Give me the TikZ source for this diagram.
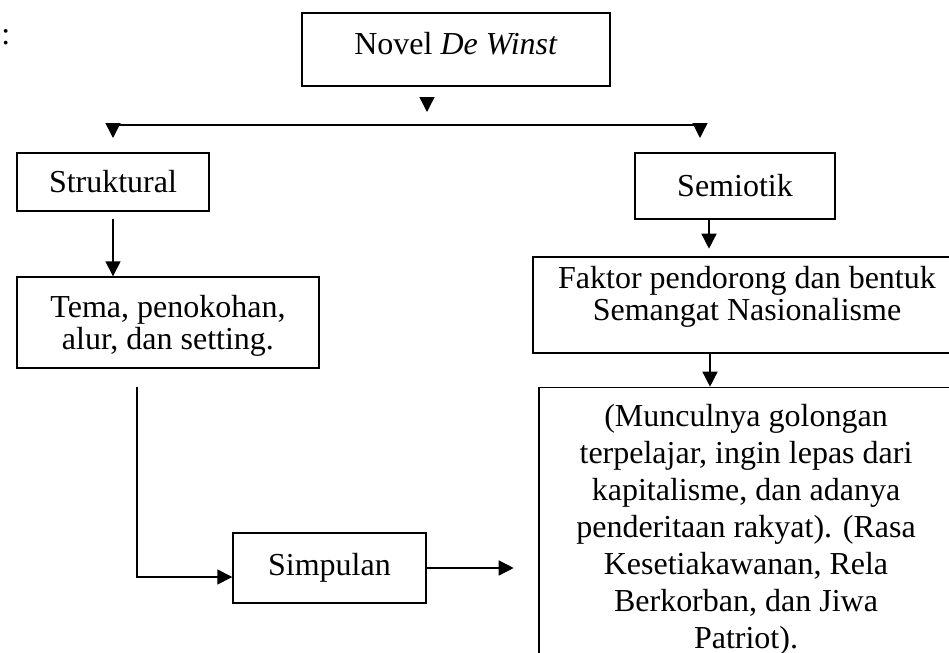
\documentclass[tikz,border=0pt]{standalone}
\usepackage{fontspec}
\setmainfont{Liberation Serif}
\usetikzlibrary{arrows.meta}

\tikzset{
  kotak/.style={draw,line width=0.7pt,inner sep=0pt,align=center,font=\fontsize{16}{16}\selectfont},
  panah/.style={-{Triangle[length=7.5pt,width=7.5pt]},line width=0.7pt}
}

\begin{document}
\begin{tikzpicture}[x=0.5pt,y=-0.5pt]%[line cap=round,line join=round]
\useasboundingbox (0,0) rectangle (949,653);
\node[anchor=base west,inner sep=0pt,font=\fontsize{16}{16}\selectfont] (titik) at (1,44) {:};
\node[kotak,minimum width=154pt,minimum height=36.5pt,text depth=6pt] (novel) at (456,49.5) {Novel \textit{De Winst}};
\node[kotak,minimum width=96pt,minimum height=29pt] (struk) at (113,182) {Struktural};
\node[kotak,minimum width=100pt,minimum height=33pt] (semio) at (735,186) {Semiotik};
\node[kotak,minimum width=151pt,minimum height=45.5pt,text depth=0pt] (tema) at (168,322.5) {Tema, penokohan,\\alur, dan setting.};
\node[kotak,minimum width=214pt,minimum height=48pt,text depth=11.8pt] (faktor) at (747,305) {Faktor pendorong dan bentuk\\Semangat Nasionalisme};
\node[kotak,minimum width=96.5pt,minimum height=35pt] (simp) at (329.5,568) {Simpulan};
\node[kotak,anchor=north,minimum width=207pt,inner ysep=8.4pt,font=\fontsize{16}{18.5}\selectfont] (hasil) at (746,387)
  {(Munculnya golongan\\terpelajar, ingin lepas dari\\kapitalisme, dan adanya\\penderitaan rakyat). (Rasa\\Kesetiakawanan, Rela\\Berkorban, dan Jiwa\\Patriot).};

\coordinate (n1) at (427,97);
\coordinate (n2) at (427,112);
\coordinate (bl) at (113,125);
\coordinate (br) at (700,125);
\coordinate (e1) at (137,387);
\coordinate (e2) at (137,577);

\draw[panah] (n1) -- (n2);
\draw[line width=0.7pt] (bl) -- (br);
\draw[panah] (bl) -- ++(0,13);
\draw[panah] (br) -- ++(0,13);
\draw[panah] ([yshift=-3.5pt]struk.south) -- (struk.south |- tema.north);
\draw[panah] ([xshift=-13pt]semio.south) -- ++(0,29);
\draw[panah] ([xshift=-18.5pt]faktor.south) -- ++(0,33);
\draw[panah] (e1) -- (e2) -- (simp.west |- e2);
\draw[panah] (simp.east) -- ++(87,0);
\end{tikzpicture}
\end{document}
